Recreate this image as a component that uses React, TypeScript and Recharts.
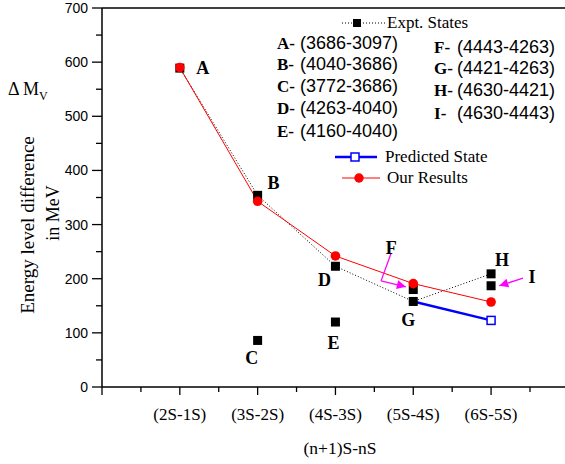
import React from "react";
import {
  ComposedChart,
  Line,
  Scatter,
  XAxis,
  YAxis,
  ReferenceLine,
} from "recharts";

// x positions: 1 = (2S-1S) ... 5 = (6S-5S)
const categories = ["(2S-1S)", "(3S-2S)", "(4S-3S)", "(5S-4S)", "(6S-5S)"];

const exptLetters = ["A", "B", "C", "D", "E", "F", "G", "H", "I"];
const exptPositions = [1, 2, 2, 3, 3, 4, 4, 5, 5];
const exptValues = [589, 354, 86, 223, 120, 180, 158, 209, 187];
const exptTransitions = [
  "(3686-3097)",
  "(4040-3686)",
  "(3772-3686)",
  "(4263-4040)",
  "(4160-4040)",
  "(4443-4263)",
  "(4421-4263)",
  "(4630-4421)",
  "(4630-4443)",
];
// expt points joined by the dotted line
const exptTrendLetters = ["A", "B", "D", "G", "H"];

const ourPositions = [1, 2, 3, 4, 5];
const ourValues = [590, 343, 242, 191, 157];

const predictedPositions = [4, 5];
const predictedValues = [158, 123];

// magenta pointer arrows (data coords), last segment has the head
const arrowF = [
  [3.715, 247],
  [3.586, 196],
  [3.905, 185],
];
const arrowI = [
  [5.41, 201],
  [5.105, 187],
];

const yTicks = [0, 50, 100, 150, 200, 250, 300, 350, 400, 450, 500, 550, 600, 650, 700];
const xTicks = [0, 0.5, 1, 1.5, 2, 2.5, 3, 3.5, 4, 4.5, 5, 5.5];
const X_MAX = 5.95;

const SERIF = "'Liberation Serif', 'Times New Roman', serif";
const SANS = "'Liberation Sans', Arial, sans-serif";

// pixel offsets of the letter labels from their point
const letterOffsets: Record<string, [number, number]> = {
  A: [23, 0],
  B: [16, -12],
  C: [-6, 18],
  D: [-11, 14],
  E: [-2, 21],
  F: [-22, -42],
  G: [-5, 19],
  H: [11, -14],
  I: [41, -9],
};

const exptData = exptLetters.map((l, i) => ({ x: exptPositions[i], y: exptValues[i], letter: l }));
const trendData = exptData.filter((d) => exptTrendLetters.includes(d.letter));
const ourData = ourPositions.map((x, i) => ({ x, y: ourValues[i] }));
const predictedData = predictedPositions.map((x, i) => ({ x, y: predictedValues[i] }));

function XTick(props: any) {
  const { x, y, payload } = props;
  const v = payload.value;
  const major = Number.isInteger(v);
  const label = major && v >= 1 ? categories[v - 1] : null;
  return (
    <g>
      <line x1={x} x2={x} y1={y} y2={y + (major ? 8 : 5)} stroke="#000" strokeWidth={1.3} />
      {label && (
        <text x={x} y={y + 33} textAnchor="middle" fontFamily={SERIF} fontSize={17} fill="#000">
          {label}
        </text>
      )}
    </g>
  );
}

function YTick(props: any) {
  const { x, y, payload } = props;
  const v = payload.value;
  const major = v % 100 === 0;
  return (
    <g>
      <line x1={x} x2={x - (major ? 10 : 6)} y1={y} y2={y} stroke="#000" strokeWidth={1.3} />
      {major && (
        <text x={x - 14} y={y + 5} textAnchor="end" fontFamily={SANS} fontSize={14} fill="#000">
          {v}
        </text>
      )}
    </g>
  );
}

function LetterShape(props: any) {
  const { cx, cy, payload } = props;
  const [dx, dy] = letterOffsets[payload.letter];
  return (
    <text
      x={cx + dx}
      y={cy + dy + 6}
      textAnchor="middle"
      fontFamily={SERIF}
      fontWeight="bold"
      fontSize={18}
      fill="#000"
    >
      {payload.letter}
    </text>
  );
}

function arrowSegments(pts: number[][], keyBase: string) {
  const out = [];
  for (let i = 0; i < pts.length - 1; i++) {
    const last = i === pts.length - 2;
    out.push(
      <ReferenceLine
        key={keyBase + i}
        segment={[
          { x: pts[i][0], y: pts[i][1] },
          { x: pts[i + 1][0], y: pts[i + 1][1] },
        ]}
        shape={(p: any) => (
          <line
            x1={p.x1}
            y1={p.y1}
            x2={p.x2}
            y2={p.y2}
            stroke="#ff00ff"
            strokeWidth={1.3}
            markerEnd={last ? "url(#mArrow)" : undefined}
          />
        )}
      />
    );
  }
  return out;
}

function LegendBox() {
  const row = (letter: string, text: string, top: number, left: number) => (
    <div key={letter} style={{ position: "absolute", top: top - 11, left, whiteSpace: "nowrap", lineHeight: "22px" }}>
      <span style={{ fontFamily: SERIF, fontWeight: "bold", fontSize: 17, display: "inline-block", width: 23 }}>
        {letter}-
      </span>
      <span style={{ fontFamily: SANS, fontSize: 18 }}>{text}</span>
    </div>
  );
  const leftTops = [43, 64, 86, 108, 131];
  const rightTops = [47, 68, 90, 113];
  return (
    <>
      <div style={{ position: "absolute", top: 12, left: 342, width: 43, height: 22 }}>
        <svg width={43} height={22}>
          <line x1={0} x2={43} y1={11} y2={11} stroke="#000" strokeDasharray="1 2" />
          <rect x={11} y={7} width={8} height={8} fill="#000" />
        </svg>
      </div>
      <div style={{ position: "absolute", top: 12, left: 387, fontFamily: SERIF, fontSize: 17, lineHeight: "22px" }}>
        Expt. States
      </div>
      {exptLetters.slice(0, 5).map((l, i) => row(l, exptTransitions[i], leftTops[i], 277))}
      {exptLetters.slice(5).map((l, i) => row(l, exptTransitions[i + 5], rightTops[i], 434))}
      <div style={{ position: "absolute", top: 146, left: 335 }}>
        <svg width={42} height={22}>
          <line x1={0} x2={42} y1={11} y2={11} stroke="#0000ff" strokeWidth={2.5} />
          <rect x={16} y={7} width={8} height={8} fill="#fff" stroke="#0000ff" strokeWidth={1.5} />
        </svg>
      </div>
      <div style={{ position: "absolute", top: 146, left: 385, fontFamily: SERIF, fontSize: 17, lineHeight: "22px" }}>
        Predicted State
      </div>
      <div style={{ position: "absolute", top: 167, left: 342 }}>
        <svg width={38} height={22}>
          <line x1={0} x2={38} y1={11} y2={11} stroke="#ff0000" strokeWidth={1} />
          <circle cx={17} cy={11} r={4.7} fill="#ff0000" />
        </svg>
      </div>
      <div style={{ position: "absolute", top: 167, left: 387, fontFamily: SERIF, fontSize: 17, lineHeight: "22px" }}>
        Our Results
      </div>
    </>
  );
}

export default function App() {
  return (
    <div style={{ position: "relative", width: 565, height: 464, background: "#fff", overflow: "hidden" }}>
      <style>{`body{margin:0}`}</style>
      <svg width={0} height={0} style={{ position: "absolute" }}>
        <defs>
          <marker
            id="mArrow"
            viewBox="0 0 10 10"
            refX={10}
            refY={5}
            markerWidth={11}
            markerHeight={9}
            orient="auto"
            markerUnits="userSpaceOnUse"
          >
            <path d="M0,0 L10,5 L0,10 z" fill="#ff00ff" />
          </marker>
        </defs>
      </svg>
      <ComposedChart width={565} height={464} margin={{ top: 7, right: 0, left: 101, bottom: 76 }}>
        <XAxis
          xAxisId="top"
          orientation="top"
          type="number"
          domain={[0, X_MAX]}
          height={1}
          tick={false}
          tickLine={false}
          axisLine={{ stroke: "#000", strokeWidth: 1.5 }}
        />
        <XAxis
          type="number"
          dataKey="x"
          domain={[0, X_MAX]}
          ticks={xTicks}
          interval={0}
          height={1}
          tickSize={0}
          tickMargin={0}
          tickLine={false}
          tick={<XTick />}
          axisLine={{ stroke: "#000", strokeWidth: 1.5 }}
        />
        <YAxis
          type="number"
          domain={[0, 700]}
          ticks={yTicks}
          interval={0}
          width={1}
          tickSize={0}
          tickMargin={0}
          tickLine={false}
          tick={<YTick />}
          axisLine={{ stroke: "#000", strokeWidth: 1.5 }}
        />
        <Line
          data={trendData}
          dataKey="y"
          stroke="#000"
          strokeWidth={1}
          strokeDasharray="1 2"
          dot={false}
          activeDot={false}
          isAnimationActive={false}
        />
        <Line
          data={predictedData}
          dataKey="y"
          stroke="#0000ff"
          strokeWidth={2.5}
          dot={(p: any) =>
            p.index === predictedData.length - 1 ? (
              <rect
                key={"pd" + p.index}
                x={p.cx - 4}
                y={p.cy - 4}
                width={8}
                height={8}
                fill="#fff"
                stroke="#0000ff"
                strokeWidth={1.5}
              />
            ) : (
              <g key={"pd" + p.index} />
            )
          }
          activeDot={false}
          isAnimationActive={false}
        />
        <Scatter
          data={exptData}
          dataKey="y"
          shape={(p: any) => <rect x={p.cx - 4.5} y={p.cy - 4.5} width={9} height={9} fill="#000" />}
          isAnimationActive={false}
        />
        <Line
          data={ourData}
          dataKey="y"
          stroke="#ff0000"
          strokeWidth={1}
          dot={{ r: 4.8, fill: "#ff0000", stroke: "#ff0000", strokeWidth: 0 }}
          activeDot={false}
          isAnimationActive={false}
        />
        <Scatter data={exptData} dataKey="y" shape={<LetterShape />} isAnimationActive={false} />
        {arrowSegments(arrowF, "f")}
        {arrowSegments(arrowI, "i")}
      </ComposedChart>
      <LegendBox />
      <div
        style={{
          position: "absolute",
          left: 8,
          top: 79,
          fontFamily: SERIF,
          fontSize: 18,
          whiteSpace: "nowrap",
        }}
      >
        Δ M<sub style={{ fontSize: 12 }}>V</sub>
      </div>
      <div
        style={{
          position: "absolute",
          left: 28,
          top: 225,
          transform: "translate(-50%, -50%) rotate(-90deg)",
          fontFamily: SERIF,
          fontSize: 19,
          whiteSpace: "nowrap",
        }}
      >
        Energy level difference
      </div>
      <div
        style={{
          position: "absolute",
          left: 53,
          top: 213,
          transform: "translate(-50%, -50%) rotate(-90deg)",
          fontFamily: SERIF,
          fontSize: 18,
          whiteSpace: "nowrap",
        }}
      >
        in MeV
      </div>
      <div
        style={{
          position: "absolute",
          left: 340,
          top: 448,
          transform: "translate(-50%, -50%)",
          fontFamily: SERIF,
          fontSize: 17.5,
          whiteSpace: "nowrap",
        }}
      >
        (n+1)S-nS
      </div>
    </div>
  );
}
